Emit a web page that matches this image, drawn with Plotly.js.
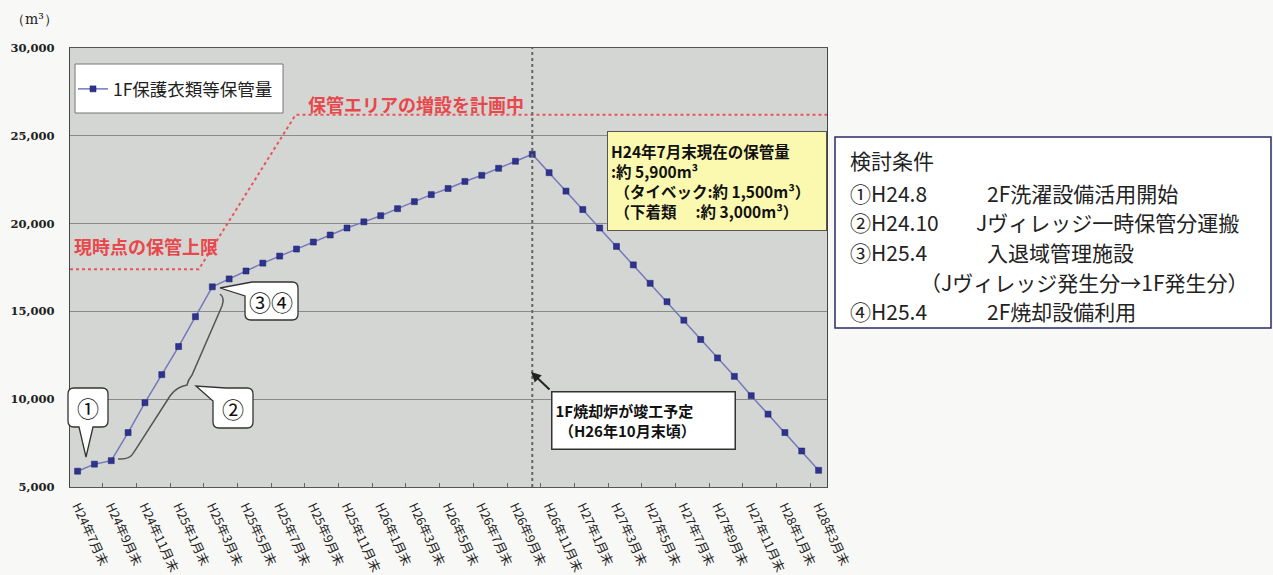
<!DOCTYPE html>
<html>
<head>
<meta charset="utf-8">
<script src="https://cdn.plot.ly/plotly-3.0.1.min.js"></script>
<style>
  html, body { margin: 0; padding: 0; background: #f8f8f6; }
  #chart { width: 1273px; height: 575px; }
</style>
</head>
<body>
<div id="chart"></div>
<script>
// ---- data ----
const months = [
  'H24年7月末','H24年8月末','H24年9月末','H24年10月末','H24年11月末','H24年12月末',
  'H25年1月末','H25年2月末','H25年3月末','H25年4月末','H25年5月末','H25年6月末',
  'H25年7月末','H25年8月末','H25年9月末','H25年10月末','H25年11月末','H25年12月末',
  'H26年1月末','H26年2月末','H26年3月末','H26年4月末','H26年5月末','H26年6月末',
  'H26年7月末','H26年8月末','H26年9月末','H26年10月末','H26年11月末','H26年12月末',
  'H27年1月末','H27年2月末','H27年3月末','H27年4月末','H27年5月末','H27年6月末',
  'H27年7月末','H27年8月末','H27年9月末','H27年10月末','H27年11月末','H27年12月末',
  'H28年1月末','H28年2月末','H28年3月末'
];
const storage = [
  5900, 6300, 6500, 8100, 9800, 11400, 13000, 14700, 16400, 16850,
  17300, 17750, 18150, 18550, 18950, 19350, 19750, 20100, 20450, 20850,
  21250, 21650, 22000, 22400, 22750, 23150, 23550, 23950, 22900, 21850,
  20800, 19750, 18700, 17650, 16600, 15550, 14500, 13400, 12350, 11300,
  10200, 9150, 8100, 7050, 5950
];
const seriesName = '1F保護衣類等保管量';
// storage capacity limit line (current limit -> planned expansion)
const capX = [-0.45, 7.2, 12.95, 44.5];
const capY = [17400, 17400, 26200, 26200];
const yTicks = [5000, 10000, 15000, 20000, 25000, 30000];

// ---- helpers (pixel -> paper) ----
const L = 70, T = 48, W = 757, H = 439;
const px = x => (x - L) / W;
const py = y => (T + H - y) / H;
const pp = s => s.replace(/(-?\d+\.?\d*),(-?\d+\.?\d*)/g, (m, a, b) => px(+a).toFixed(5) + ',' + py(+b).toFixed(5));

const CJK = '"Noto Sans CJK JP", "Noto Sans", sans-serif';
const xIdx = months.map((_, i) => i);
const tickIdx = xIdx.filter(i => i % 2 === 0);
const tickText = tickIdx.map(i => months[i]);
const peakIdx = storage.indexOf(Math.max(...storage));

const traces = [
  {
    x: capX, y: capY, mode: 'lines', showlegend: false, hoverinfo: 'skip',
    line: { color: '#e8545a', dash: 'dot', width: 2 }
  },
  {
    x: xIdx, y: storage, name: seriesName, mode: 'lines+markers',
    line: { color: '#7479bd', width: 1.5 },
    marker: { symbol: 'square', size: 6, color: '#2e3390', line: { color: '#1c1f66', width: 0.5 } }
  }
];

const redFont = { family: CJK, size: 18, color: '#e8474c', weight: 'bold' };
const boxLine = { color: '#333', width: 1.3 };

const ann = (x, y, text, opts) => Object.assign({
  xref: 'paper', yref: 'paper', x: px(x), y: py(y), text: text, showarrow: false,
  xanchor: 'left', yanchor: 'middle', font: { family: CJK, size: 21, color: '#222' }
}, opts || {});

const annotations = [
  ann(9, 19, '（m³）', { font: { family: '"DejaVu Serif", serif', size: 14, color: '#222' } }),
  ann(416, 104, '保管エリアの増設を計画中', { xanchor: 'center', font: redFont }),
  ann(72, 246, '現時点の保管上限', { font: redFont }),
  // yellow info box
  {
    xref: 'paper', yref: 'paper', x: px(607), y: py(131), xanchor: 'left', yanchor: 'top',
    showarrow: false, align: 'left', valign: 'middle', width: 212, height: 92,
    bgcolor: '#fbf9b0', bordercolor: '#555', borderwidth: 1, borderpad: 3,
    font: { family: CJK, size: 15.5, color: '#111', weight: 'bold' },
    text: 'H24年7月末現在の保管量<br>:約 5,900m³<br> （タイベック:約 1,500m³）<br> （下着類　 :約 3,000m³）'
  },
  // incinerator box
  {
    xref: 'paper', yref: 'paper', x: px(551), y: py(391), xanchor: 'left', yanchor: 'top',
    showarrow: false, align: 'left', valign: 'middle', width: 176, height: 50,
    bgcolor: '#ffffff', bordercolor: '#333', borderwidth: 1.5, borderpad: 3,
    font: { family: CJK, size: 15, color: '#111', weight: 'bold' },
    text: '1F焼却炉が竣工予定<br> （H26年10月末頃）'
  },
  {
    xref: 'paper', yref: 'paper', x: px(531), y: py(372), ax: 20, ay: 19, text: '',
    showarrow: true, arrowhead: 2, arrowsize: 1, arrowwidth: 2, arrowcolor: '#222'
  },
  // callout digits
  ann(88, 407, '①', { xanchor: 'center', font: { family: CJK, size: 22, color: '#111' } }),
  ann(233, 408, '②', { xanchor: 'center', font: { family: CJK, size: 22, color: '#111' } }),
  ann(271, 301, '③④', { xanchor: 'center', font: { family: CJK, size: 22, color: '#111' } }),
  // conditions box
  ann(848, 160, '検討条件'),
  ann(848, 193, '①H24.8'), ann(985, 193, '2F洗濯設備活用開始'),
  ann(848, 222, '②H24.10'), ann(974, 222, 'Jヴィレッジ一時保管分運搬'),
  ann(848, 252, '③H25.4'), ann(985, 252, '入退域管理施設'),
  ann(918, 282, '（Jヴィレッジ発生分→1F発生分）'),
  ann(848, 311, '④H25.4'), ann(985, 311, '2F焼却設備利用')
];

const shapes = [
  // legend box
  { type: 'rect', xref: 'paper', yref: 'paper', x0: px(75), x1: px(283), y0: py(113), y1: py(64),
    fillcolor: '#ffffff', line: { color: '#777', width: 1 }, layer: 'above' },
  // incinerator completion line
  { type: 'line', xref: 'x', yref: 'paper', x0: peakIdx, x1: peakIdx, y0: 0, y1: 1,
    line: { color: '#666', width: 2, dash: 'dot' }, layer: 'above' },
  // brace
  { type: 'path', xref: 'paper', yref: 'paper',
    path: pp('M 118,459 Q 130,460 134,452 L 170,396 Q 176,387 187,385 Q 188,380 192,375 L 222,306 Q 225,298 220,294'),
    line: { color: '#555', width: 1.5 } },
  // callout ①
  { type: 'path', xref: 'paper', yref: 'paper', fillcolor: '#ffffff', line: boxLine,
    path: pp('M 74,388 L 102,388 Q 108,388 108,394 L 108,421 Q 108,427 102,427 L 93,427 L 86,457 L 79,427 L 74,427 Q 68,427 68,421 L 68,394 Q 68,388 74,388 Z') },
  // callout ②
  { type: 'path', xref: 'paper', yref: 'paper', fillcolor: '#ffffff', line: boxLine,
    path: pp('M 226,388 L 247,388 Q 253,388 253,394 L 253,422 Q 253,428 247,428 L 219,428 Q 213,428 213,422 L 213,401 L 196,386 Z') },
  // callout ③④
  { type: 'path', xref: 'paper', yref: 'paper', fillcolor: '#ffffff', line: boxLine,
    path: pp('M 252,282 L 292,282 Q 298,282 298,288 L 298,314 Q 298,320 292,320 L 251,320 Q 245,320 245,314 L 245,296 L 220,288 Z') },
  // conditions box
  { type: 'rect', xref: 'paper', yref: 'paper', x0: px(835), x1: px(1271), y0: py(328), y1: py(137),
    fillcolor: '#ffffff', line: { color: '#2a2a6a', width: 1.5 } }
];

const layout = {
  width: 1273, height: 575,
  margin: { l: L, r: 1273 - L - W, t: T, b: 575 - T - H, pad: 0 },
  paper_bgcolor: '#f8f8f6', plot_bgcolor: '#d4d6d3',
  showlegend: true,
  legend: {
    x: px(73), y: py(89), xanchor: 'left', yanchor: 'middle',
    bgcolor: 'rgba(0,0,0,0)', borderwidth: 0,
    font: { family: CJK, size: 17.5, color: '#222' }
  },
  xaxis: {
    range: [-0.45, 44.5], tickmode: 'array', tickvals: tickIdx, ticktext: tickText,
    tickangle: 65, ticks: '', ticklabelstandoff: 6,
    tickfont: { family: CJK, size: 12.5, color: '#222' },
    showgrid: false, zeroline: false, showline: true, linecolor: '#555', linewidth: 1.2, mirror: true,
    automargin: false,
    minor: { tick0: 1.5, dtick: 2, ticks: 'inside', ticklen: 4, tickcolor: '#666', showgrid: false }
  },
  yaxis: {
    range: [5000, 30000], tickmode: 'array', tickvals: yTicks, tickformat: ',d',
    ticks: '', ticklabelstandoff: 12,
    tickfont: { family: '"DejaVu Serif", serif', size: 11.5, color: '#222', weight: 'bold' },
    showgrid: true, gridcolor: '#8a8a8a', gridwidth: 1, zeroline: false,
    showline: true, linecolor: '#444', linewidth: 1.2, mirror: true, automargin: false
  },
  annotations: annotations,
  shapes: shapes
};

Plotly.newPlot('chart', traces, layout, { displayModeBar: false, staticPlot: true });
</script>
</body>
</html>
